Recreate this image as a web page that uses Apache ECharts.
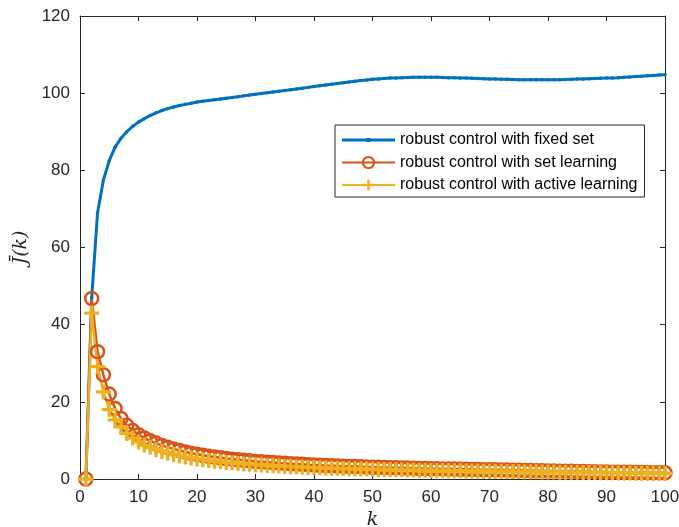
<!DOCTYPE html>
<html>
<head>
<meta charset="utf-8">
<script src="https://cdn.jsdelivr.net/npm/echarts@6/dist/echarts.min.js"></script>
<style>
  html, body { margin: 0; padding: 0; background: #fff; }
  #chart { width: 679px; height: 527px; }
</style>
</head>
<body>
<div id="chart"></div>
<script>
// k = 1..100
const kValues = Array.from({ length: 100 }, (_, i) => i + 1);

const seriesNames = [
  "robust control with fixed set",
  "robust control with set learning",
  "robust control with active learning",
];

const fixedSet = [
  0, 47, 69, 77.5, 82.5, 86, 88.3, 90, 91.4, 92.5,
  93.4, 94.2, 94.9, 95.5, 96.0, 96.4, 96.8, 97.1, 97.4, 97.7,
  97.9, 98.1, 98.3, 98.5, 98.7, 98.9, 99.1, 99.3, 99.5, 99.7,
  99.9, 100.1, 100.3, 100.5, 100.7, 100.9, 101.1, 101.3, 101.5, 101.7,
  101.9, 102.1, 102.3, 102.5, 102.7, 102.9, 103.1, 103.3, 103.4, 103.6,
  103.7, 103.8, 103.9, 103.95, 104.0, 104.05, 104.1, 104.1, 104.1, 104.1,
  104.1, 104.05, 104.0, 104.0, 103.95, 103.9, 103.85, 103.8, 103.75, 103.7,
  103.65, 103.6, 103.6, 103.55, 103.5, 103.5, 103.5, 103.45, 103.45, 103.45,
  103.5, 103.5, 103.55, 103.6, 103.65, 103.7, 103.75, 103.8, 103.85, 103.9,
  103.95, 104.0, 104.1, 104.2, 104.3, 104.4, 104.5, 104.6, 104.7, 104.8,
];

const setLearning = [
  0, 46.8, 33.0, 27.0, 22.0, 18.3, 15.7, 13.9, 12.6, 11.5,
  10.6, 9.9, 9.3, 8.7, 8.2, 7.8, 7.4, 7.0, 6.7, 6.4,
  6.15, 5.9, 5.7, 5.5, 5.3, 5.15, 5.0, 4.85, 4.7, 4.55,
  4.45, 4.35, 4.25, 4.15, 4.05, 3.95, 3.87, 3.8, 3.72, 3.65,
  3.58, 3.51, 3.45, 3.39, 3.33, 3.27, 3.22, 3.17, 3.12, 3.07,
  3.02, 2.98, 2.94, 2.9, 2.86, 2.82, 2.78, 2.74, 2.71, 2.68,
  2.65, 2.62, 2.59, 2.56, 2.53, 2.5, 2.47, 2.44, 2.42, 2.4,
  2.37, 2.34, 2.31, 2.28, 2.25, 2.22, 2.19, 2.16, 2.13, 2.1,
  2.07, 2.04, 2.01, 1.98, 1.95, 1.92, 1.89, 1.86, 1.83, 1.8,
  1.78, 1.76, 1.74, 1.72, 1.7, 1.68, 1.66, 1.64, 1.62, 1.6,
];

const activeLearning = [
  0, 43.0, 29.1, 22.6, 18.0, 15.3, 13.5, 11.8, 10.6, 9.6,
  8.8, 8.2, 7.6, 7.1, 6.7, 6.35, 6.0, 5.7, 5.45, 5.2,
  5.0, 4.8, 4.6, 4.45, 4.3, 4.15, 4.0, 3.9, 3.8, 3.7,
  3.6, 3.5, 3.42, 3.34, 3.26, 3.19, 3.12, 3.06, 3.0, 2.95,
  2.9, 2.85, 2.8, 2.76, 2.72, 2.68, 2.64, 2.6, 2.56, 2.52,
  2.49, 2.46, 2.43, 2.4, 2.37, 2.34, 2.31, 2.28, 2.25, 2.22,
  2.2, 2.18, 2.16, 2.14, 2.12, 2.1, 2.08, 2.06, 2.04, 2.02,
  2.0, 1.98, 1.96, 1.94, 1.92, 1.9, 1.88, 1.86, 1.84, 1.82,
  1.8, 1.78, 1.76, 1.74, 1.72, 1.7, 1.68, 1.66, 1.64, 1.62,
  1.6, 1.58, 1.56, 1.54, 1.52, 1.5, 1.48, 1.46, 1.44, 1.42,
];

const xTicks = { min: 0, max: 100, interval: 10 };
const yTicks = { min: 0, max: 120, interval: 20 };

const AXIS = "#262626";
const FONT = "'Liberation Sans', Arial, sans-serif";
const MATH = "'DejaVu Serif', 'Liberation Serif', serif";

// filled "+" marker, thick arms
const PLUS =
  "path://M-1,-0.22L-0.22,-0.22L-0.22,-1L0.22,-1L0.22,-0.22L1,-0.22L1,0.22L0.22,0.22L0.22,1L-0.22,1L-0.22,0.22L-1,0.22Z";
// legend icon for the fixed-set line: line with a small dot
const LINE_DOT = "path://M0,5.5H53V8.5H0Z M24.5,5H28.5V9H24.5Z";

const pairs = (ys) => kValues.map((k, i) => [k, ys[i]]);

function axisBase(ticks, showLabels) {
  return {
    type: "value",
    min: ticks.min,
    max: ticks.max,
    interval: ticks.interval,
    axisLine: { show: true, onZero: false, lineStyle: { color: AXIS, width: 1 } },
    axisTick: { show: true, inside: true, length: 5, lineStyle: { color: AXIS } },
    axisLabel: { show: showLabels, color: AXIS, fontSize: 17, fontFamily: FONT, margin: 10 },
    splitLine: { show: false },
  };
}

const chart = echarts.init(document.getElementById("chart"));
chart.setOption({
  animation: false,
  backgroundColor: "#fff",
  grid: { left: 80, right: 14, top: 16, bottom: 48, outerBoundsMode: "none", containLabel: false },
  xAxis: [
    {
      ...axisBase(xTicks, true),
      position: "bottom",
      name: "k",
      nameLocation: "middle",
      nameGap: 32,
      nameTextStyle: { fontFamily: MATH, fontStyle: "italic", fontSize: 19, color: AXIS },
    },
    { ...axisBase(xTicks, false), position: "top" },
  ],
  yAxis: [
    {
      ...axisBase(yTicks, true),
      position: "left",
      name: "J\u0304(k)",
      nameLocation: "middle",
      nameGap: 38,
      nameTextStyle: { fontFamily: MATH, fontStyle: "italic", fontSize: 19, color: AXIS },
    },
    { ...axisBase(yTicks, false), position: "right" },
  ],
  legend: {
    data: [
      { name: seriesNames[0], icon: LINE_DOT },
      { name: seriesNames[1] },
      { name: seriesNames[2] },
    ],
    orient: "vertical",
    left: 335,
    top: 125,
    padding: [7, 7, 4, 6],
    itemWidth: 53,
    itemHeight: 14,
    itemGap: 6.5,
    selectedMode: false,
    borderColor: AXIS,
    borderWidth: 1,
    backgroundColor: "#fff",
    textStyle: { fontSize: 16, fontFamily: FONT, color: "#000", lineHeight: 16 },
  },
  series: [
    {
      name: seriesNames[0],
      type: "line",
      data: pairs(fixedSet),
      symbol: "circle",
      symbolSize: 3.5,
      itemStyle: { color: "#0072BD" },
      lineStyle: { color: "#0072BD", width: 3 },
    },
    {
      name: seriesNames[1],
      type: "line",
      data: pairs(setLearning),
      symbol: "circle",
      symbolSize: 13,
      itemStyle: { color: "rgba(0,0,0,0)", borderColor: "#D95319", borderWidth: 2.5 },
      lineStyle: { color: "#D95319", width: 2.5 },
    },
    {
      name: seriesNames[2],
      type: "line",
      data: pairs(activeLearning),
      symbol: PLUS,
      symbolSize: 15,
      itemStyle: { color: "#EDB120", borderWidth: 0 },
      lineStyle: { color: "#EDB120", width: 2.5 },
    },
  ],
});
</script>
</body>
</html>
